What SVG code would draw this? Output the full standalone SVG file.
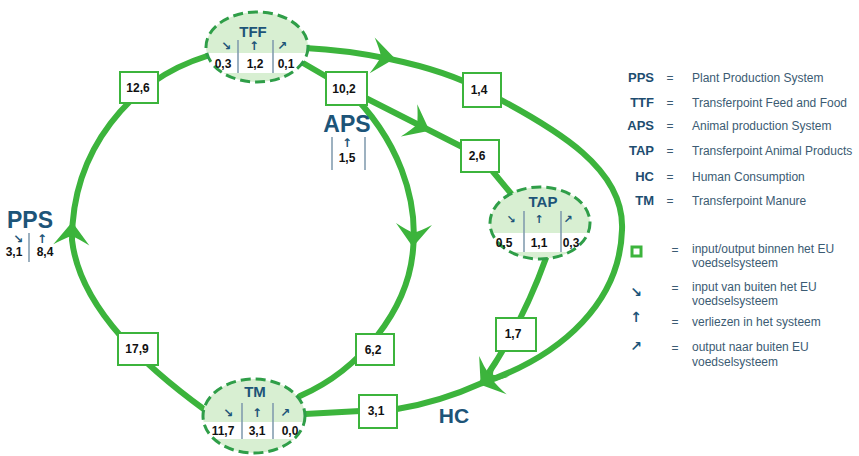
<svg xmlns="http://www.w3.org/2000/svg" xmlns:xlink="http://www.w3.org/1999/xlink" width="859" height="456" viewBox="0 0 859 456">
<style>
.ln{fill:none;stroke:#3cb43c;stroke-width:6;stroke-linecap:round;stroke-linejoin:round}
.ah{fill:#3cb43c}
.box{fill:#fff;stroke:#3cb43c;stroke-width:2}
.bt{font-family:"Liberation Sans",Arial,sans-serif;font-weight:bold;font-size:12px;fill:#111;text-anchor:middle}
.nf{fill:#d8efd2}
.nb{fill:none;stroke:#2f9e48;stroke-width:3;stroke-dasharray:10 5}
.ttl{font-family:"Liberation Sans",Arial,sans-serif;font-weight:bold;font-size:15px;fill:#1d5478;text-anchor:middle}
.big{font-family:"Liberation Sans",Arial,sans-serif;font-weight:bold;font-size:23px;fill:#1d5478;text-anchor:middle}
.ar{font-family:"DejaVu Sans",sans-serif;font-weight:bold;font-size:12px;fill:#1d5478;text-anchor:middle}
.num{font-family:"Liberation Sans",Arial,sans-serif;font-weight:bold;font-size:12px;fill:#111;text-anchor:middle}
.dv{stroke:#7d97ab;stroke-width:1.5}
.lab{font-family:"Liberation Sans",Arial,sans-serif;font-weight:bold;font-size:13px;fill:#1d4d70;text-anchor:end}
.eq{font-family:"Liberation Sans",Arial,sans-serif;font-size:12px;fill:#3b5b73;text-anchor:middle}
.ld{font-family:"Liberation Sans",Arial,sans-serif;font-size:12px;fill:#3b5b73}
</style>
<defs>
<path id="arh" d="M4,0 L-19,-18 Q-13,-8 -10,0 Q-13,8 -19,18 Z"/>
<clipPath id="cTFF"><ellipse cx="257" cy="47" rx="51" ry="35"/></clipPath>
<clipPath id="cTAP"><ellipse cx="540" cy="223" rx="50" ry="36"/></clipPath>
<clipPath id="cTM"><ellipse cx="254" cy="416" rx="51" ry="37"/></clipPath>
</defs>
<rect width="859" height="456" fill="#fff"/>

<g id="connectors">
<path class="ln" d="M207,56 C130,80 72,150 72,240 C80,310 150,370 205,410"/>
<path class="ln" d="M303,63 L346,88 C400,140 418,200 413,250 C408,310 360,370 300,396"/>
<path class="ln" d="M346,88 L480,156 L513,196"/>
<path class="ln" d="M305,48 C350,50 430,62 482,90 C560,130 625,170 622,230 C620,300 565,355 482,383 Q440,402 397,409 L305,414"/>
<path class="ln" d="M546,258 Q522,325 482,383"/>
<use href="#arh" class="ah" transform="translate(72,226) rotate(-88)"/>
<use href="#arh" class="ah" transform="translate(391,58) rotate(8)"/>
<use href="#arh" class="ah" transform="translate(426,129) rotate(27)"/>
<use href="#arh" class="ah" transform="translate(413,243) rotate(93)"/>
<use href="#arh" class="ah" transform="translate(483,383) rotate(162)"/>
<use href="#arh" class="ah" transform="translate(483,382) rotate(125)"/>
</g>

<g id="box-12-6"><rect class="box" x="120" y="72" width="38" height="31"/><text class="bt" x="138" y="92">12,6</text></g>
<g id="box-10-2"><rect class="box" x="326" y="72" width="41" height="33"/><text class="bt" x="344" y="93">10,2</text></g>
<g id="box-1-4"><rect class="box" x="463" y="73" width="38" height="34"/><text class="bt" x="479" y="94">1,4</text></g>
<g id="box-2-6"><rect class="box" x="461" y="140" width="38" height="32"/><text class="bt" x="477" y="160">2,6</text></g>
<g id="box-17-9"><rect class="box" x="118" y="333" width="40" height="32"/><text class="bt" x="137" y="353">17,9</text></g>
<g id="box-6-2"><rect class="box" x="356" y="334" width="38" height="31"/><text class="bt" x="373" y="354">6,2</text></g>
<g id="box-1-7"><rect class="box" x="496" y="318" width="40" height="33"/><text class="bt" x="513" y="338">1,7</text></g>
<g id="box-3-1"><rect class="box" x="359" y="395" width="38" height="33"/><text class="bt" x="376" y="415">3,1</text></g>

<g id="TFF">
<ellipse class="nf" cx="257" cy="47" rx="51" ry="35"/>
<rect x="200" y="53" width="115" height="20" fill="#fff" clip-path="url(#cTFF)"/>
<ellipse class="nb" cx="257" cy="47" rx="51" ry="35"/>
<text class="ttl" x="253" y="37">TFF</text>
<text class="ar" x="226" y="50">↘</text><text class="ar" x="254" y="50">↑</text><text class="ar" x="282" y="50">↗</text>
<line class="dv" x1="238" y1="40" x2="238" y2="73"/><line class="dv" x1="273" y1="40" x2="273" y2="73"/>
<text class="num" x="223" y="68">0,3</text><text class="num" x="255" y="68">1,2</text><text class="num" x="286" y="68">0,1</text>
</g>

<g id="TAP">
<ellipse class="nf" cx="540" cy="223" rx="50" ry="36"/>
<rect x="485" y="233" width="110" height="19" fill="#fff" clip-path="url(#cTAP)"/>
<ellipse class="nb" cx="540" cy="223" rx="50" ry="36"/>
<text class="ttl" x="543" y="207">TAP</text>
<text class="ar" x="511" y="223" style="font-size:11px">↘</text><text class="ar" x="539" y="223" style="font-size:11px">↑</text><text class="ar" x="568" y="223" style="font-size:11px">↗</text>
<line class="dv" x1="524" y1="211" x2="524" y2="252"/><line class="dv" x1="561" y1="211" x2="561" y2="252"/>
<text class="num" x="504" y="247">0,5</text><text class="num" x="539" y="247">1,1</text><text class="num" x="571" y="247">0,3</text>
</g>

<g id="TM">
<ellipse class="nf" cx="254" cy="416" rx="51" ry="37"/>
<rect x="198" y="422" width="112" height="17" fill="#fff" clip-path="url(#cTM)"/>
<ellipse class="nb" cx="254" cy="416" rx="51" ry="37"/>
<text class="ttl" x="255" y="397">TM</text>
<text class="ar" x="228" y="417">↘</text><text class="ar" x="257" y="417">↑</text><text class="ar" x="285" y="417">↗</text>
<line class="dv" x1="242" y1="403" x2="242" y2="439"/><line class="dv" x1="273" y1="403" x2="273" y2="439"/>
<text class="num" x="223" y="435">11,7</text><text class="num" x="257" y="435">3,1</text><text class="num" x="290" y="435">0,0</text>
</g>

<g id="PPS">
<text class="big" x="30" y="228">PPS</text>
<text class="ar" x="18" y="243">↘</text><text class="ar" x="42" y="243">↑</text>
<line class="dv" x1="29" y1="233" x2="29" y2="262"/>
<text class="num" x="14" y="256">3,1</text><text class="num" x="45" y="256">8,4</text>
</g>

<g id="APS">
<text class="big" x="347" y="132">APS</text>
<text class="ar" x="347" y="147">↑</text>
<line class="dv" x1="332" y1="137" x2="332" y2="170"/><line class="dv" x1="365" y1="137" x2="365" y2="170"/>
<text class="num" x="347" y="162">1,5</text>
</g>

<g id="HC">
<text class="big" x="454" y="423" style="font-size:21px">HC</text>
</g>

<g id="legend">
<text class="lab" x="654" y="82">PPS</text><text class="eq" x="670" y="82">=</text><text class="ld" x="692" y="82">Plant Production System</text>
<text class="lab" x="654" y="107">TTF</text><text class="eq" x="670" y="107">=</text><text class="ld" x="692" y="107">Transferpoint Feed and Food</text>
<text class="lab" x="654" y="130">APS</text><text class="eq" x="670" y="130">=</text><text class="ld" x="692" y="130">Animal production System</text>
<text class="lab" x="654" y="155">TAP</text><text class="eq" x="670" y="155">=</text><text class="ld" x="692" y="155">Transferpoint Animal Products</text>
<text class="lab" x="654" y="181">HC</text><text class="eq" x="670" y="181">=</text><text class="ld" x="692" y="181">Human Consumption</text>
<text class="lab" x="654" y="205">TM</text><text class="eq" x="670" y="205">=</text><text class="ld" x="692" y="205">Transferpoint Manure</text>

<rect x="632" y="247" width="9" height="9" fill="#fff" stroke="#3cb43c" stroke-width="3"/>
<text class="eq" x="675" y="254">=</text>
<text class="ld" x="692" y="253">input/output binnen het EU</text><text class="ld" x="692" y="267">voedselsysteem</text>
<text class="ar" x="636" y="297" style="font-size:14px">↘</text>
<text class="eq" x="675" y="292">=</text>
<text class="ld" x="692" y="291">input van buiten het EU</text><text class="ld" x="692" y="305">voedselsysteem</text>
<text class="ar" x="636" y="322" style="font-size:14px">↑</text>
<text class="eq" x="675" y="326">=</text>
<text class="ld" x="692" y="326">verliezen in het systeem</text>
<text class="ar" x="636" y="351" style="font-size:14px">↗</text>
<text class="eq" x="675" y="352">=</text>
<text class="ld" x="692" y="351">output naar buiten EU</text><text class="ld" x="692" y="366">voedselsysteem</text>
</g>
</svg>
